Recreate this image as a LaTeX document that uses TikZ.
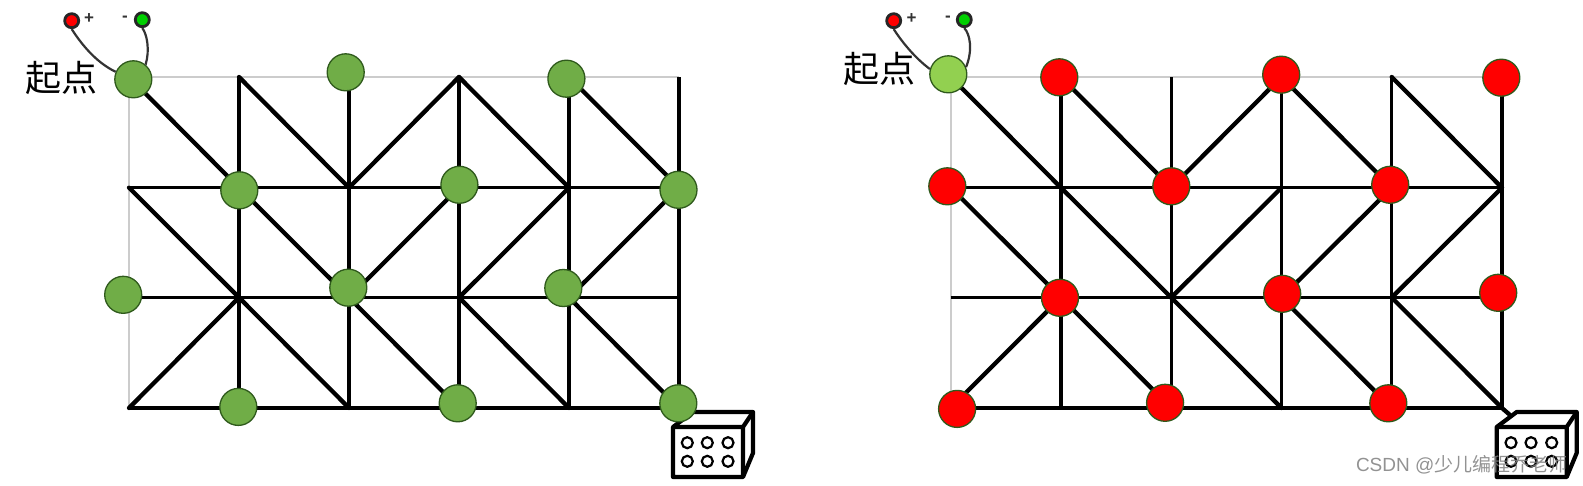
\documentclass[tikz,border=0pt]{standalone}
\usepackage{fontspec}
\setmainfont{Liberation Sans}
\newfontfamily\cjkfont{Noto Sans CJK SC}
\usetikzlibrary{calc}
\definecolor{spotgreen}{HTML}{70AD47}
\definecolor{spotlight}{HTML}{92D050}
\definecolor{spotedge}{HTML}{2F5A1C}
\definecolor{railgray}{HTML}{CCCCCC}
\definecolor{termgreen}{HTML}{00D000}
\tikzset{
  x=1pt,y=-1pt,
  rail/.style={draw=railgray,line width=2.3pt},
  wirev/.style={draw=black,line width=3.2pt},
  wired/.style={draw=black,line width=4.3pt},
  spot/.style={circle,draw=spotedge,line width=1.3pt,minimum size=37pt,inner sep=0pt,fill=#1},
  term/.style={circle,draw=black!85,line width=2.8pt,minimum size=14pt,inner sep=0pt,fill=#1},
  lead/.style={draw=black!80,line width=2.2pt},
  sign/.style={inner sep=0pt,font=\bfseries\fontsize{17}{17}\selectfont,text=black!80},
  startlabel/.style={inner sep=0pt,font=\cjkfont\fontsize{36}{36}\selectfont,text=black},
  boxline/.style={draw=black,line width=4.2pt,line join=round},
  boxhole/.style={circle,draw=black,line width=2.2pt,minimum size=11pt,inner sep=0pt,fill=white},
  watermark/.style={inner sep=0pt,font=\fontsize{19}{19}\selectfont,text=black!50,opacity=.85}
}
% grid of one panel: #1 name prefix, #2 left x, #3 column spacing
\newcommand{\gridpanel}[3]{%
  \foreach \i in {0,...,5}{\foreach \j/\yy in {0/77,1/187.7,2/297.5,3/408}{%
    \coordinate (#1\i\j) at ({#2+\i*#3},\yy);}}
  \draw[rail] (#100) -- (#150) (#100) -- (#103);
  \foreach \i in {1,...,5}{\draw[wirev] (#1\i0) -- (#1\i3);}
  \foreach \j in {1,2,3}{\draw[wirev] (#10\j) -- (#15\j);}
  \foreach \a/\b in {00/11,10/21,30/21,30/41,40/51,
                     01/12,11/22,31/22,41/32,51/42,
                     03/12,12/23,22/33,32/43,42/53}{%
    \draw[wired,line cap=round] (#1\a) -- (#1\b);}
}
% terminal box: #1 offset in x
\newcommand{\boxicon}[1]{%
  \begin{scope}[xshift=#1]
    \path[boxline,fill=white] (673,427) -- (693,412) -- (753,412) -- (753,453) -- (743,477) -- (673,477) -- cycle;
    \path[boxline] (673,427) -- (743,427) -- (743,477) (743,427) -- (753,412);
    \foreach \hx in {687.3,707.3,728}{\foreach \hy in {442.7,461.3}{%
      \node[boxhole] at (\hx,\hy) {};}}
  \end{scope}
}
\begin{document}
\begin{tikzpicture}
\useasboundingbox (0,0) rectangle (1583,485);
\fill[white] (0,0) rectangle (1583,485);

% ---------- left panel
\gridpanel{L}{129}{110}
\boxicon{0pt}
\foreach \n/\x/\y in {b/345.7/72.3,c/566.4/78.7,d/239.3/190.3,e/459.4/184.8,f/678.5/189.8,
                      g/123.2/294.8,h/348.3/287.7,i/563.3/288,j/238.3/406.9,k/457.7/403.3,l/678.3/403.3}{%
  \node[spot=spotgreen] (L\n) at (\x,\y) {};}
\node[term=red] (Lplus) at (71.7,20.7) {};
\node[term=termgreen] (Lminus) at (142.3,19.7) {};
\node[sign] (Lps) at (89,18.5) {+};
\node[sign] (Lms) at (125,18.5) {-};
\node[spot=spotgreen] (Lstart) at (133.3,79.3) {};
\draw[lead] (Lplus.south) .. controls (80,42) and (95,62) .. (Lstart.157);
\draw[lead] (Lminus.south) .. controls (147,34) and (150,50) .. (Lstart.50);
\node[startlabel] (Ltext) at (61,77.5) {起点};

% ---------- right panel
\gridpanel{R}{950.7}{110.25}
\coordinate (Rbox) at (1510,415);
\draw[wired] (R53) -- (Rbox);
\boxicon{823.7pt}
\foreach \n/\x/\y in {b/1059.3/77.3,c/1281.2/74.7,d/1501.3/77.7,e/947.3/186.3,f/1171.3/186.3,
                      g/1390.2/184.8,h/1060/297.8,i/1282.2/293.8,j/1498.2/292.8,
                      k/957.1/408.9,l/1165.1/402.8,m/1388.3/403.3}{%
  \node[spot=red] (R\n) at (\x,\y) {};}
\node[term=red] (Rplus) at (893.7,20.7) {};
\node[term=termgreen] (Rminus) at (964.3,19.7) {};
\node[sign] (Rps) at (911.5,18.5) {+};
\node[sign] (Rms) at (948,18.5) {-};
\node[spot=spotlight] (Rstart) at (948.3,74.3) {};
\draw[lead] (Rplus.south) .. controls (902,42) and (915,58) .. (Rstart.164);
\draw[lead] (Rminus.south) .. controls (970,34) and (973,50) .. (Rstart.22);
\node[startlabel] (Rtext) at (879,69) {起点};

\node[watermark] (wm) at (1461.7,465) {CSDN @{\cjkfont 少儿编程乔老师}};
\end{tikzpicture}
\end{document}
